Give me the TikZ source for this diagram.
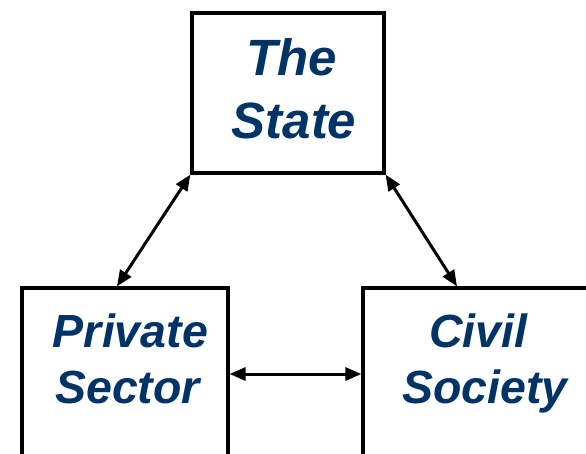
\documentclass[tikz,border=0pt]{standalone}
\usepackage{fontspec}
\setmainfont{Liberation Sans}
\usetikzlibrary{arrows.meta}
\definecolor{navy}{RGB}{0,51,102}
\begin{document}
\begin{tikzpicture}[x=1pt,y=-1pt]
\tikzset{
  box/.style={draw=black,line width=3.2pt,fill=white,inner sep=0pt},
  bigtxt/.style={text=navy,font=\fontsize{51}{60}\selectfont\bfseries\itshape,anchor=base,inner sep=0pt},
  smalltxt/.style={text=navy,font=\fontsize{46.5}{56}\selectfont\bfseries\itshape,anchor=base,inner sep=0pt},
  link/.style={draw=black,line width=3pt,{Triangle[length=16pt,width=13pt]}-{Triangle[length=16pt,width=13pt]}}}
\useasboundingbox (0,0) rectangle (586,453);
\node[box,minimum width=192pt,minimum height=160pt] (state) at (288,93) {};
\node[box,minimum width=206pt,minimum height=200pt] (priv) at (125,388) {};
\node[box,minimum width=242pt,minimum height=200pt] (civ) at (484,388) {};
\node[bigtxt] (t1) at (291.5,75) {The};
\node[bigtxt] (t2) at (294,138) {State};
\node[smalltxt] (p1) at (130.5,347) {Private};
\node[smalltxt] (p2) at (127.5,403) {Sector};
\node[smalltxt] (c1) at (478.5,347) {Civil};
\node[smalltxt] (c2) at (485,403) {Society};
\draw[link] (state.south west) -- ([xshift=-8pt]priv.north);
\draw[link] (state.south east) -- ([xshift=-27pt]civ.north);
\draw[link] ([yshift=14pt]priv.east) -- ([yshift=14pt]civ.west);
\end{tikzpicture}
\end{document}
